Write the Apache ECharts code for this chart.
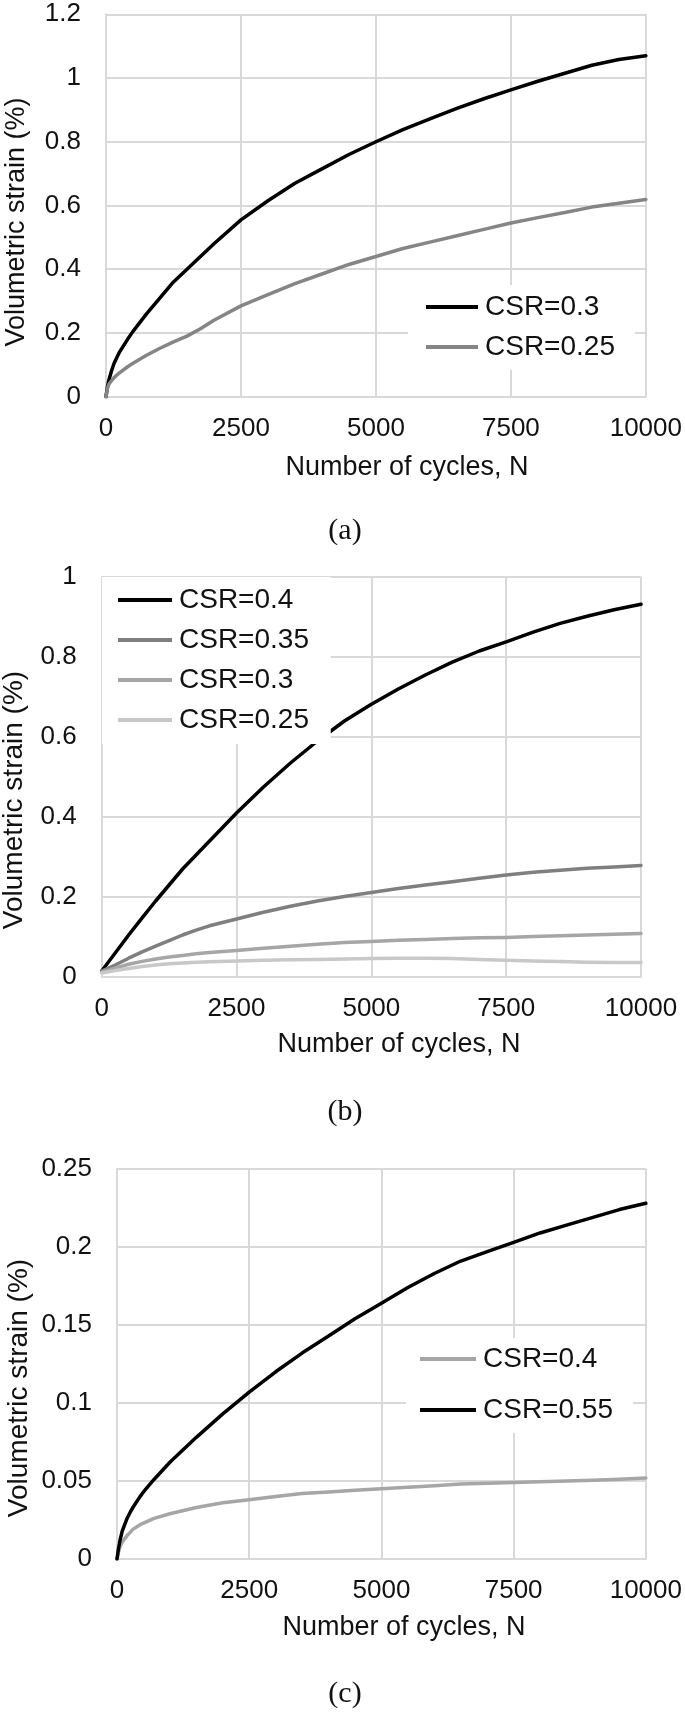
<!DOCTYPE html>
<html>
<head>
<meta charset="utf-8">
<script src="https://cdn.jsdelivr.net/npm/echarts@6/dist/echarts.min.js"></script>
<style>html,body{margin:0;padding:0;background:#fff;}#c{width:685px;height:1713px;}</style>
</head>
<body>
<div id="c"></div>
<script>
// ---------- Data ----------
// Panel (a)
const nA     = [0, 25, 50, 100, 150, 250, 400, 500, 750, 1000, 1250, 1500, 1750, 2000, 2500, 3000, 3500, 4000, 4500, 5000, 5500, 6000, 6500, 7000, 7500, 8000, 8500, 9000, 9500, 10000];
const a_csr03  = [0, 0.03, 0.05, 0.08, 0.105, 0.14, 0.18, 0.205, 0.26, 0.31, 0.36, 0.40, 0.44, 0.48, 0.555, 0.615, 0.67, 0.715, 0.76, 0.80, 0.838, 0.872, 0.905, 0.935, 0.963, 0.99, 1.015, 1.04, 1.058, 1.07];
const a_csr025 = [0, 0.025, 0.038, 0.05, 0.06, 0.075, 0.094, 0.105, 0.13, 0.152, 0.172, 0.19, 0.213, 0.24, 0.285, 0.32, 0.355, 0.385, 0.415, 0.44, 0.465, 0.485, 0.505, 0.525, 0.545, 0.562, 0.578, 0.595, 0.607, 0.619];

// Panel (b)
const nB      = [0, 250, 500, 750, 1000, 1250, 1500, 1750, 2000, 2500, 3000, 3500, 4000, 4500, 5000, 5500, 6000, 6500, 7000, 7500, 8000, 8500, 9000, 9500, 10000];
const b_csr04  = [0.015, 0.06, 0.105, 0.148, 0.19, 0.23, 0.27, 0.305, 0.34, 0.41, 0.475, 0.535, 0.59, 0.64, 0.682, 0.72, 0.755, 0.787, 0.815, 0.838, 0.862, 0.884, 0.902, 0.918, 0.932];
const b_csr035 = [0.015, 0.03, 0.047, 0.063, 0.077, 0.091, 0.105, 0.117, 0.128, 0.145, 0.162, 0.177, 0.19, 0.201, 0.211, 0.221, 0.23, 0.238, 0.247, 0.255, 0.262, 0.267, 0.272, 0.275, 0.279];
const b_csr03  = [0.012, 0.022, 0.032, 0.039, 0.045, 0.05, 0.054, 0.058, 0.061, 0.066, 0.072, 0.077, 0.082, 0.086, 0.089, 0.092, 0.094, 0.096, 0.098, 0.099, 0.101, 0.103, 0.105, 0.107, 0.109];
const b_csr025 = [0.01, 0.016, 0.021, 0.026, 0.03, 0.033, 0.035, 0.037, 0.038, 0.04, 0.042, 0.043, 0.044, 0.045, 0.046, 0.047, 0.047, 0.046, 0.044, 0.042, 0.04, 0.039, 0.037, 0.036, 0.036];

// Panel (c)
const nC      = [0, 25, 57, 100, 190, 250, 300, 435, 500, 700, 1000, 1500, 2000, 2500, 3000, 3500, 4000, 4500, 5000, 5500, 6000, 6500, 7000, 7500, 8000, 8500, 9000, 9500, 10000];
const c_csr055 = [0, 0.006, 0.012, 0.018, 0.026, 0.03, 0.033, 0.04, 0.043, 0.051, 0.062, 0.078, 0.093, 0.107, 0.12, 0.132, 0.143, 0.154, 0.164, 0.174, 0.183, 0.191, 0.197, 0.203, 0.209, 0.214, 0.219, 0.224, 0.228];
const c_csr04  = [0, 0.004, 0.008, 0.011, 0.015, 0.017, 0.019, 0.022, 0.023, 0.026, 0.029, 0.033, 0.036, 0.038, 0.04, 0.042, 0.043, 0.044, 0.045, 0.046, 0.047, 0.048, 0.0485, 0.049, 0.0495, 0.05, 0.0505, 0.0512, 0.052];

// Axis ticks
const xTicks = {min: 0, max: 10000, interval: 2500};
const yA = {min: 0, max: 1.2, interval: 0.2};
const yB = {min: 0, max: 1, interval: 0.2};
const yC = {min: 0, max: 0.25, interval: 0.05};

const xName = 'Number of cycles, N';
const yName = 'Volumetric strain (%)';
const panelLabels = ['(a)', '(b)', '(c)'];

// ---------- Chart ----------
const FONT = '"Liberation Sans", Arial, sans-serif';
const GRID_C = '#d9d9d9';
const TXT = '#111';
const pair = (n, v) => n.map((x, i) => [x, v[i]]);

function xAxis(gi) {
  return {
    type: 'value', gridIndex: gi, min: xTicks.min, max: xTicks.max, interval: xTicks.interval,
    axisLine: {show: true, lineStyle: {color: GRID_C, width: 2}},
    axisTick: {show: false},
    axisLabel: {fontFamily: FONT, fontSize: 26, color: TXT, margin: 19, formatter: v => String(v)},
    splitLine: {show: true, lineStyle: {color: GRID_C, width: 2}}
  };
}
function yAxis(gi, t) {
  return {
    type: 'value', gridIndex: gi, min: t.min, max: t.max, interval: t.interval,
    axisLine: {show: true, lineStyle: {color: GRID_C, width: 2}},
    axisTick: {show: false},
    axisLabel: {fontFamily: FONT, fontSize: 26, color: TXT, margin: 25, formatter: v => String(+v.toFixed(4))},
    splitLine: {show: true, lineStyle: {color: GRID_C, width: 2}}
  };
}
function line(name, gi, data, color) {
  return {
    name: name, type: 'line', xAxisIndex: gi, yAxisIndex: gi, data: data,
    showSymbol: false, symbol: 'none', smooth: false,
    lineStyle: {color: color, width: 3.5, join: 'round', cap: 'round'}, itemStyle: {color: color}, z: 3
  };
}
function legend(items, left, top, pad, gap, w) {
  return {
    left: left, top: top, orient: 'vertical', backgroundColor: '#fff', padding: pad,
    itemGap: gap, itemWidth: w, itemHeight: 4, selectedMode: false, icon: 'rect',
    textStyle: {fontFamily: FONT, fontSize: 28, color: TXT, lineHeight: 30, padding: [0, 0, 0, 2]},
    data: items
  };
}
function txt(t, x, y, rot, size, family) {
  return {
    type: 'text', x: x, y: y, rotation: rot,
    style: {text: t, fontFamily: family || FONT, fontSize: size, fill: TXT, textAlign: 'center', textVerticalAlign: 'middle'}
  };
}

const chart = echarts.init(document.getElementById('c'), null, {renderer: 'canvas', width: 685, height: 1713});
const SERIF = '"Liberation Serif", "Times New Roman", serif';
const option = {
  backgroundColor: '#fff',
  animation: false,
  grid: [
    {left: 106, top: 14.3, width: 540, height: 382.4},
    {left: 101.7, top: 577, width: 539.3, height: 400},
    {left: 117, top: 1169, width: 529, height: 390}
  ],
  xAxis: [xAxis(0), xAxis(1), xAxis(2)],
  yAxis: [yAxis(0, yA), yAxis(1, yB), yAxis(2, yC)],
  legend: [
    legend(['CSR=0.3', 'CSR=0.25'], 408, 285, [7, 20, 8, 18], 10, 52),
    legend(['CSR=0.4', 'CSR=0.35', 'CSR=0.3 ', 'CSR=0.25 '], 102, 577, [8, 14, 9, 16], 10, 54),
    legend(['CSR=0.4 ', 'CSR=0.55'], 406, 1338, [6, 20, 8, 14], 21, 56)
  ],
  series: [
    line('CSR=0.3', 0, pair(nA, a_csr03), '#000000'),
    line('CSR=0.25', 0, pair(nA, a_csr025), '#858585'),
    line('CSR=0.4', 1, pair(nB, b_csr04), '#000000'),
    line('CSR=0.35', 1, pair(nB, b_csr035), '#7f7f7f'),
    line('CSR=0.3 ', 1, pair(nB, b_csr03), '#a6a6a6'),
    line('CSR=0.25 ', 1, pair(nB, b_csr025), '#c8c8c8'),
    line('CSR=0.4 ', 2, pair(nC, c_csr04), '#a6a6a6'),
    line('CSR=0.55', 2, pair(nC, c_csr055), '#000000')
  ],
  graphic: [
    txt(xName, 407, 468, 0, 27), txt(xName, 399, 1045, 0, 27), txt(xName, 404, 1628, 0, 27),
    txt(yName, 17, 222, Math.PI / 2, 27), txt(yName, 14, 800, Math.PI / 2, 28), txt(yName, 19, 1388, Math.PI / 2, 28),
    txt(panelLabels[0], 345, 531, 0, 30, SERIF),
    txt(panelLabels[1], 345, 1112, 0, 30, SERIF),
    txt(panelLabels[2], 345, 1694, 0, 30, SERIF)
  ]
};
chart.setOption(option);
</script>
</body>
</html>
